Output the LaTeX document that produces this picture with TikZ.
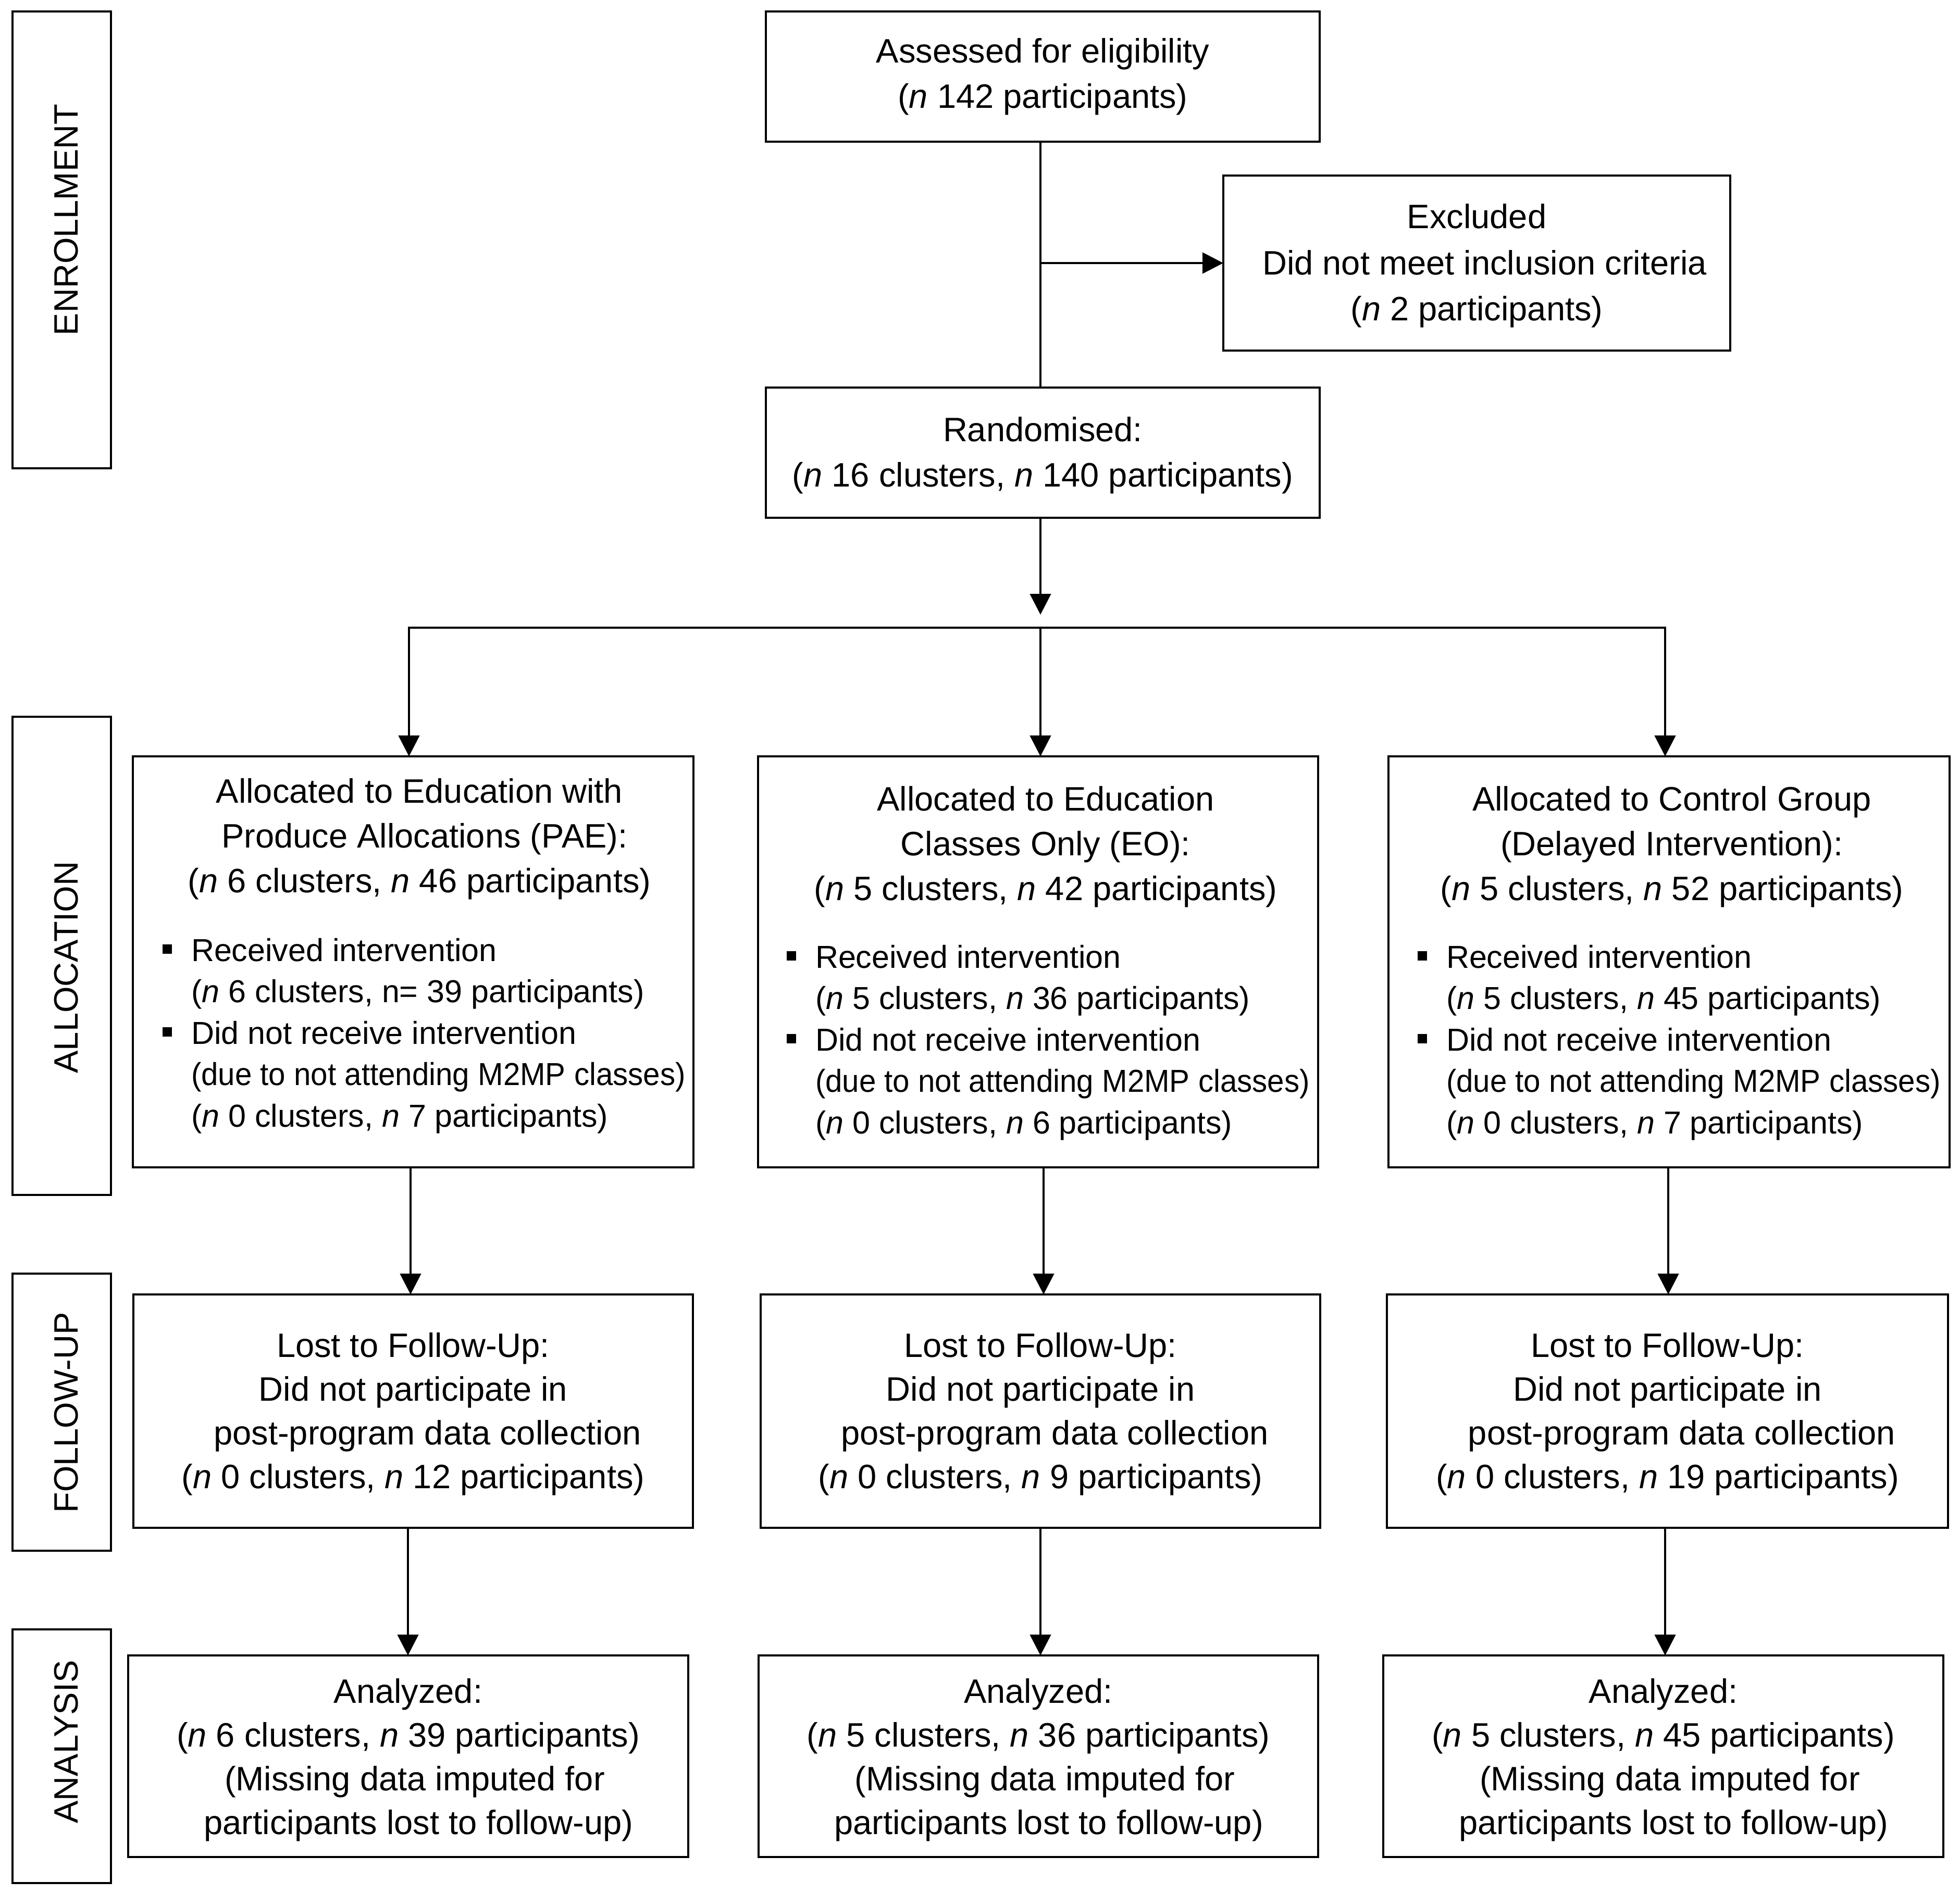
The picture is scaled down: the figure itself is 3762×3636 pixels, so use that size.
\documentclass[tikz,border=0pt]{standalone}
\usepackage{fontspec}
\usepackage{graphicx}
\setmainfont{Liberation Sans}
\usetikzlibrary{arrows.meta}
\newcommand{\cbul}{\llap{\raisebox{2.8pt}{\rule{3.6pt}{3.6pt}}\hspace{7.4pt}}}
\newcommand{\tstrut}[1]{\rule{0pt}{#1}}
\newcommand{\duel}{\scalebox{0.955}[1]{(due to not attending M2MP classes)}}
\begin{document}
\begin{tikzpicture}[x=0.2pt,y=-0.2pt,
  every node/.style={inner sep=0pt, outer sep=0pt},
  box/.style={draw, line width=0.7pt, align=center, font=\fontsize{13}{17.4}\selectfont},
  fubox/.style={box, minimum height=89.6pt, font=\fontsize{13}{16.8}\selectfont},
  anbox/.style={box, minimum height=77.4pt, font=\fontsize{13}{16.8}\selectfont},
  albox/.style={box, minimum height=157.8pt},
  lblbox/.style={draw, line width=0.7pt, minimum width=37.8pt},
  lbltxt/.style={rotate=90, anchor=base, font=\fontsize{13}{15}\selectfont},
  ttl/.style={anchor=north, align=center, font=\fontsize{13}{17.2}\selectfont},
  blt/.style={anchor=north west, align=left, font=\fontsize{12.2}{15.9}\selectfont},
  ln/.style={line width=0.94pt},
  arr/.style={line width=0.94pt, -{Triangle[length=8pt,width=8pt]}}]
\useasboundingbox (0,0) rectangle (3762,3636);

% phase labels
\node[lblbox, minimum height=175.4pt] (lenr) at (118.5,460.5) {};
\node[lbltxt] (tenr) at (149,422) {ENROLLMENT};
\node[lblbox, minimum height=183.6pt] (lall) at (118.5,1835) {};
\node[lbltxt] (tall) at (149,1857) {ALLOCATION};
\node[lblbox, minimum height=106.4pt] (lfu) at (118.5,2711) {};
\node[lbltxt] (tfu) at (149,2712) {FOLLOW-UP};
\node[lblbox, minimum height=97.4pt] (lan) at (118.5,3371.5) {};
\node[lbltxt] (tan) at (149,3344) {ANALYSIS};

% enrollment
\node[box, minimum width=212.6pt, minimum height=50pt] (assess) at (2001.5,147)
  {Assessed for eligibility\\(\textit{n} 142 participants)};
\node[box, minimum width=194.6pt, minimum height=67.2pt, font=\fontsize{13}{17.7}\selectfont] (excl) at (2834.5,505)
  {\tstrut{11.5pt}Excluded\\ \hspace*{6pt}Did not meet inclusion criteria\\(\textit{n} 2 participants)};
\node[box, minimum width=212.6pt, minimum height=50pt] (rand) at (2001.5,869)
  {\tstrut{11.5pt}Randomised:\\(\textit{n} 16 clusters, \textit{n} 140 participants)};

% allocation
\node[albox, minimum width=215.2pt] (pae) at (793,1846.5) {};
\node[albox, minimum width=215pt] (eo) at (1992.5,1846.5) {};
\node[albox, minimum width=215.4pt] (ctl) at (3203.5,1846.5) {};

\node[ttl] (paet) at (805,1494) {Allocated to Education with\\\hspace*{4pt}Produce Allocations (PAE):\\(\textit{n} 6 clusters, \textit{n} 46 participants)};
\node[blt] (paeb) at (367,1801) {\cbul Received intervention\\(\textit{n} 6 clusters, n= 39 participants)\\\cbul Did not receive intervention\\\duel\\(\textit{n} 0 clusters, \textit{n} 7 participants)};

\node[ttl] (eot) at (2007,1509) {Allocated to Education\\Classes Only (EO):\\(\textit{n} 5 clusters, \textit{n} 42 participants)};
\node[blt] (eob) at (1565,1814) {\cbul Received intervention\\(\textit{n} 5 clusters, \textit{n} 36 participants)\\\cbul Did not receive intervention\\\duel\\(\textit{n} 0 clusters, \textit{n} 6 participants)};

\node[ttl] (ctlt) at (3209,1509) {Allocated to Control Group\\(Delayed Intervention):\\(\textit{n} 5 clusters, \textit{n} 52 participants)};
\node[blt] (ctlb) at (2776,1814) {\cbul Received intervention\\(\textit{n} 5 clusters, \textit{n} 45 participants)\\\cbul Did not receive intervention\\\duel\\(\textit{n} 0 clusters, \textit{n} 7 participants)};

% follow-up
\node[fubox, minimum width=214.8pt] (fpae) at (793,2709)
  {\tstrut{11.5pt}Lost to Follow-Up:\\Did not participate in\\\hspace*{11pt}post-program data collection\\(\textit{n} 0 clusters, \textit{n} 12 participants)};
\node[fubox, minimum width=214.8pt] (feo) at (1997,2709)
  {\tstrut{11.5pt}Lost to Follow-Up:\\Did not participate in\\\hspace*{11pt}post-program data collection\\(\textit{n} 0 clusters, \textit{n} 9 participants)};
\node[fubox, minimum width=215.4pt] (fctl) at (3200.5,2709)
  {\tstrut{11.5pt}Lost to Follow-Up:\\Did not participate in\\\hspace*{11pt}post-program data collection\\(\textit{n} 0 clusters, \textit{n} 19 participants)};

% analysis
\node[anbox, minimum width=215pt] (apae) at (783.5,3371.5)
  {\tstrut{12.3pt}Analyzed:\\(\textit{n} 6 clusters, \textit{n} 39 participants)\\\hspace*{5pt}(Missing data imputed for\\\hspace*{8pt}participants lost to follow-up)};
\node[anbox, minimum width=214.8pt] (aeo) at (1993,3371.5)
  {\tstrut{12.3pt}Analyzed:\\(\textit{n} 5 clusters, \textit{n} 36 participants)\\\hspace*{5pt}(Missing data imputed for\\\hspace*{8pt}participants lost to follow-up)};
\node[anbox, minimum width=215pt] (actl) at (3192.5,3371.5)
  {\tstrut{12.3pt}Analyzed:\\(\textit{n} 5 clusters, \textit{n} 45 participants)\\\hspace*{5pt}(Missing data imputed for\\\hspace*{8pt}participants lost to follow-up)};

% connectors
\coordinate (ex0) at (1997,505);
\coordinate (tipr) at (1997,1180);
\coordinate (xa) at (785,1205);
\coordinate (xb) at (1997,1205);
\coordinate (xc) at (3196,1205);
\coordinate (x1) at (788,0);
\coordinate (x2) at (2003,0);
\coordinate (x3) at (3202,0);
\coordinate (y1) at (783,0);
\coordinate (y2) at (1997,0);
\coordinate (y3) at (3196,0);

\draw[ln] (assess.south -| xb) -- (rand.north -| xb);
\draw[arr] (ex0) -- (excl.west |- ex0);
\draw[arr] (rand.south -| xb) -- (tipr);
\draw[arr] (xb) -- (xa) -- (pae.north -| xa);
\draw[arr] (xb) -- (xc) -- (ctl.north -| xc);
\draw[arr] (xb) -- (eo.north -| xb);

\draw[arr] (pae.south -| x1) -- (fpae.north -| x1);
\draw[arr] (eo.south -| x2) -- (feo.north -| x2);
\draw[arr] (ctl.south -| x3) -- (fctl.north -| x3);

\draw[arr] (fpae.south -| y1) -- (apae.north -| y1);
\draw[arr] (feo.south -| y2) -- (aeo.north -| y2);
\draw[arr] (fctl.south -| y3) -- (actl.north -| y3);
\end{tikzpicture}
\end{document}
